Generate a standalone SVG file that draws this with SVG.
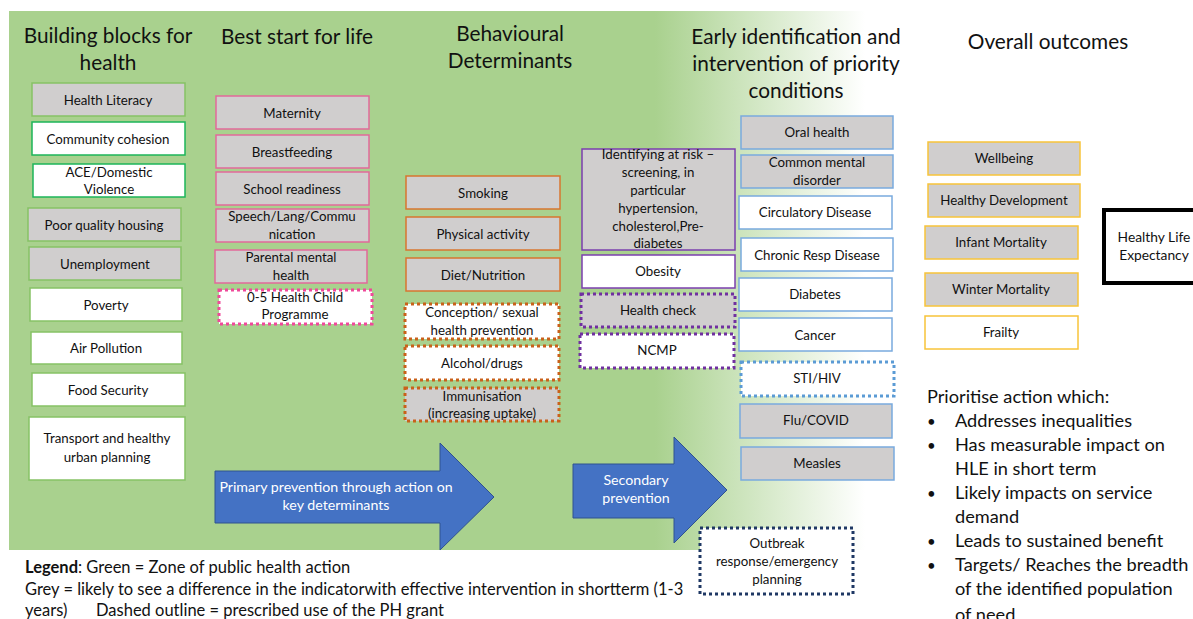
<svg xmlns="http://www.w3.org/2000/svg" width="1193" height="619" viewBox="0 0 1193 619">
<defs>
<linearGradient id="bgGrad" gradientUnits="userSpaceOnUse" x1="655" y1="0" x2="865" y2="0">
<stop offset="0" stop-color="#A9D18E"/>
<stop offset="1" stop-color="#FFFFFF"/>
</linearGradient>
<style>
text{font-family:Lato,"Liberation Sans",sans-serif;fill:#111;}
.t{font-size:13.3px;text-anchor:middle;dominant-baseline:central;}
.h{font-size:20.8px;text-anchor:middle;}
.aw{font-size:14.2px;fill:#fff;text-anchor:middle;}
.lg{font-size:16.5px;}
.pr{font-size:18.2px;}
.bu{font-size:15px;}
.gr{fill:#D0CECE;}
.wh{fill:#FFFFFF;}
.gl{stroke:#86C265;stroke-width:1.5;}
.gb{stroke:#1DB55A;stroke-width:1.5;}
.pk{stroke:#E2699A;stroke-width:1.5;}
.pkd{stroke:#F0489A;stroke-width:3;stroke-dasharray:3 3;}
.or{stroke:#D8762F;stroke-width:1.5;}
.ord{stroke:#C9611A;stroke-width:3;stroke-dasharray:3 3;}
.pu{stroke:#7B3FAE;stroke-width:1.5;}
.pud{stroke:#7030A0;stroke-width:3;stroke-dasharray:3 3;}
.bl{stroke:#79AADE;stroke-width:1.5;}
.bld{stroke:#5B9BD5;stroke-width:3;stroke-dasharray:3 3;}
.nvd{stroke:#1F3864;stroke-width:3;stroke-dasharray:3 3;}
.go{stroke:#F8C43A;stroke-width:1.5;}
.arrow{fill:#4472C4;stroke:#2F528F;stroke-width:1;}
</style>
</defs>

<rect x="9" y="11" width="880" height="539" fill="url(#bgGrad)"/>

<g id="titles">
<text class="h" x="108" y="43">Building blocks for</text>
<text class="h" x="108" y="70">health</text>
<text class="h" x="297" y="44">Best start for life</text>
<text class="h" x="510" y="41">Behavioural</text>
<text class="h" x="510" y="68">Determinants</text>
<text class="h" x="796" y="44">Early identification and</text>
<text class="h" x="796" y="71">intervention of priority</text>
<text class="h" x="796" y="98">conditions</text>
<text class="h" x="1048" y="49">Overall outcomes</text>
</g>

<g id="connectors">
<g id="arrow-primary">
<path class="arrow" d="M215,471 H440 V443 L494,497 L440,550 V523 H215 Z"/>
<text class="aw" x="336" y="492">Primary prevention through action on</text>
<text class="aw" x="336" y="510">key determinants</text>
</g>
<g id="arrow-secondary">
<path class="arrow" d="M573,464 H674 V437 L727,490 L674,543 V518 H573 Z"/>
<text class="aw" x="636" y="485">Secondary</text>
<text class="aw" x="636" y="503">prevention</text>
</g>
</g>

<g id="n-health-literacy"><rect class="gr gl" x="32" y="83" width="153" height="33"/><text class="t" x="108" y="99.5">Health Literacy</text></g>
<g id="n-community-cohesion"><rect class="wh gb" x="32" y="122" width="153" height="33"/><text class="t" x="108" y="138.5">Community cohesion</text></g>
<g id="n-ace"><rect class="wh gb" x="33" y="164" width="152" height="33"/><text class="t" x="109" y="172">ACE/Domestic</text><text class="t" x="109" y="189">Violence</text></g>
<g id="n-housing"><rect class="gr gl" x="28" y="208" width="153" height="33"/><text class="t" x="104" y="224.5">Poor quality housing</text></g>
<g id="n-unemployment"><rect class="gr gl" x="29" y="247" width="152" height="33"/><text class="t" x="105" y="263.5">Unemployment</text></g>
<g id="n-poverty"><rect class="wh gl" x="30" y="288" width="152" height="33"/><text class="t" x="106" y="304.5">Poverty</text></g>
<g id="n-air"><rect class="wh gl" x="31" y="332" width="151" height="32"/><text class="t" x="106" y="348">Air Pollution</text></g>
<g id="n-food"><rect class="wh gl" x="32" y="373" width="153" height="33"/><text class="t" x="108" y="389.5">Food Security</text></g>
<g id="n-transport"><rect class="wh gl" x="29" y="417" width="156" height="63"/><text class="t" x="107" y="438">Transport and healthy</text><text class="t" x="107" y="457">urban planning</text></g>

<g id="n-maternity"><rect class="gr pk" x="216" y="96" width="153" height="33"/><text class="t" x="292" y="112.5">Maternity</text></g>
<g id="n-breastfeeding"><rect class="gr pk" x="216" y="135" width="153" height="33"/><text class="t" x="292" y="151.5">Breastfeeding</text></g>
<g id="n-school"><rect class="gr pk" x="216" y="172" width="153" height="33"/><text class="t" x="292" y="188.5">School readiness</text></g>
<g id="n-speech"><rect class="gr pk" x="216" y="209" width="153" height="33"/><text class="t" x="292" y="216">Speech/Lang/Commu</text><text class="t" x="292" y="234">nication</text></g>
<g id="n-parental"><rect class="gr pk" x="215" y="250" width="152" height="33"/><text class="t" x="291" y="257">Parental mental</text><text class="t" x="291" y="275">health</text></g>
<g id="n-05"><rect class="wh pkd" x="219" y="290" width="153" height="34"/><text class="t" x="295" y="297">0-5 Health Child</text><text class="t" x="295" y="314">Programme</text></g>

<g id="n-smoking"><rect class="gr or" x="406" y="176" width="154" height="33"/><text class="t" x="483" y="192.5">Smoking</text></g>
<g id="n-physical"><rect class="gr or" x="406" y="217" width="154" height="33"/><text class="t" x="483" y="233.5">Physical activity</text></g>
<g id="n-diet"><rect class="gr or" x="406" y="258" width="154" height="33"/><text class="t" x="483" y="274.5">Diet/Nutrition</text></g>
<g id="n-conception"><rect class="wh ord" x="405" y="304" width="154" height="35"/><text class="t" x="482" y="312">Conception/ sexual</text><text class="t" x="482" y="330">health prevention</text></g>
<g id="n-alcohol"><rect class="wh ord" x="405" y="346" width="154" height="34"/><text class="t" x="482" y="363">Alcohol/drugs</text></g>
<g id="n-immunisation"><rect class="gr ord" x="405" y="388" width="154" height="33"/><text class="t" x="482" y="396">Immunisation</text><text class="t" x="482" y="413">(increasing uptake)</text></g>

<g id="n-identifying"><rect class="gr pu" x="582" y="149" width="153" height="101"/>
<text class="t" x="658" y="154">Identifying at risk –</text>
<text class="t" x="658" y="172">screening, in</text>
<text class="t" x="658" y="190">particular</text>
<text class="t" x="658" y="208">hypertension,</text>
<text class="t" x="658" y="226">cholesterol,Pre-</text>
<text class="t" x="658" y="243">diabetes</text></g>
<g id="n-obesity"><rect class="wh pu" x="582" y="255" width="153" height="33"/><text class="t" x="658" y="271">Obesity</text></g>
<g id="n-healthcheck"><rect class="gr pud" x="581" y="294" width="154" height="33"/><text class="t" x="658" y="310">Health check</text></g>
<g id="n-ncmp"><rect class="wh pud" x="580" y="334" width="154" height="34"/><text class="t" x="657" y="350">NCMP</text></g>

<g id="n-oral"><rect class="gr bl" x="741" y="116" width="152" height="33"/><text class="t" x="817" y="132">Oral health</text></g>
<g id="n-mental"><rect class="gr bl" x="741" y="155" width="152" height="33"/><text class="t" x="817" y="162">Common mental</text><text class="t" x="817" y="180">disorder</text></g>
<g id="n-circulatory"><rect class="wh bl" x="739" y="196" width="153" height="33"/><text class="t" x="815" y="212">Circulatory Disease</text></g>
<g id="n-resp"><rect class="wh bl" x="741" y="238" width="152" height="33"/><text class="t" x="817" y="254.5">Chronic Resp Disease</text></g>
<g id="n-diabetes"><rect class="wh bl" x="739" y="278" width="153" height="33"/><text class="t" x="815" y="294">Diabetes</text></g>
<g id="n-cancer"><rect class="wh bl" x="739" y="318" width="153" height="33"/><text class="t" x="815" y="334.5">Cancer</text></g>
<g id="n-sti"><rect class="wh bld" x="741" y="362" width="153" height="34"/><text class="t" x="817" y="378">STI/HIV</text></g>
<g id="n-flu"><rect class="gr bl" x="740" y="404" width="152" height="34"/><text class="t" x="816" y="420">Flu/COVID</text></g>
<g id="n-measles"><rect class="gr bl" x="741" y="447" width="153" height="33"/><text class="t" x="817" y="463">Measles</text></g>
<g id="n-outbreak"><rect class="wh nvd" x="700" y="528" width="153" height="66"/><text class="t" x="777" y="543">Outbreak</text><text class="t" x="777" y="561">response/emergency</text><text class="t" x="777" y="579">planning</text></g>

<g id="n-wellbeing"><rect class="gr go" x="928" y="142" width="152" height="33"/><text class="t" x="1004" y="158">Wellbeing</text></g>
<g id="n-development"><rect class="gr go" x="928" y="184" width="152" height="33"/><text class="t" x="1004" y="200">Healthy Development</text></g>
<g id="n-infant"><rect class="gr go" x="925" y="226" width="153" height="33"/><text class="t" x="1001" y="242">Infant Mortality</text></g>
<g id="n-winter"><rect class="gr go" x="925" y="273" width="153" height="33"/><text class="t" x="1001" y="289">Winter Mortality</text></g>
<g id="n-frailty"><rect class="wh go" x="925" y="316" width="153" height="33"/><text class="t" x="1001" y="332">Frailty</text></g>
<g id="n-hle"><rect x="1104" y="210" width="95" height="73" fill="#fff" stroke="#000" stroke-width="4"/><text class="t" x="1154" y="236" style="font-size:13.8px">Healthy Life</text><text class="t" x="1154" y="254" style="font-size:13.8px">Expectancy</text></g>

<g id="legend">
<text class="lg" x="25" y="573"><tspan font-weight="bold">Legend</tspan>: Green = Zone of public health action</text>
<text class="lg" x="25" y="595">Grey = likely to see a difference in the indicatorwith effective intervention in shortterm (1-3</text>
<text class="lg" x="25" y="616">years)</text>
<text class="lg" x="96" y="616">Dashed outline = prescribed use of the PH grant</text>
</g>

<g id="prioritise">
<text class="pr" x="927" y="403">Prioritise action which:</text>
<text class="bu" x="927" y="427">•</text><text class="pr" x="955" y="427">Addresses inequalities</text>
<text class="bu" x="927" y="451">•</text><text class="pr" x="955" y="451">Has measurable impact on</text>
<text class="pr" x="955" y="475">HLE in short term</text>
<text class="bu" x="927" y="499">•</text><text class="pr" x="955" y="499">Likely impacts on service</text>
<text class="pr" x="955" y="523">demand</text>
<text class="bu" x="927" y="547">•</text><text class="pr" x="955" y="547">Leads to sustained benefit</text>
<text class="bu" x="927" y="571">•</text><text class="pr" x="955" y="571">Targets/ Reaches the breadth</text>
<text class="pr" x="955" y="595">of the identified population</text>
<text class="pr" x="955" y="621">of need</text>
</g>
</svg>
